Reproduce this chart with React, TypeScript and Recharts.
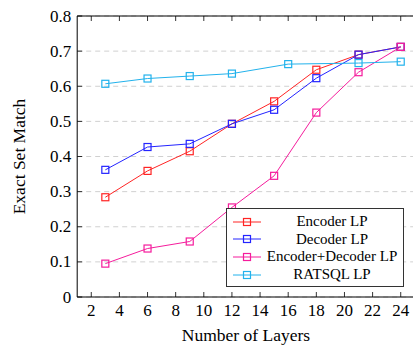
import React from 'react';
import { LineChart, Line, XAxis, YAxis, CartesianGrid, Legend } from 'recharts';

const layers = [3, 6, 9, 12, 15, 16, 18, 21, 24];
const encoderLP = [0.284, 0.359, 0.415, 0.493, 0.557, null, 0.647, 0.69, 0.712];
const decoderLP = [0.362, 0.427, 0.436, 0.493, 0.533, null, 0.623, 0.69, 0.712];
const encDecLP = [0.095, 0.138, 0.158, 0.255, 0.345, null, 0.525, 0.64, 0.712];
const ratsqlLP = [0.607, 0.622, 0.629, 0.636, null, 0.663, null, 0.666, 0.67];
const xTicks = [2, 4, 6, 8, 10, 12, 14, 16, 18, 20, 22, 24];
const yTicks = [0, 0.1, 0.2, 0.3, 0.4, 0.5, 0.6, 0.7, 0.8];

const series = [
  { key: 'enc', name: 'Encoder LP', color: '#ff2424', values: encoderLP },
  { key: 'dec', name: 'Decoder LP', color: '#2424ff', values: decoderLP },
  { key: 'encdec', name: 'Encoder+Decoder LP', color: '#f51c9c', values: encDecLP },
  { key: 'rat', name: 'RATSQL LP', color: '#22b2ec', values: ratsqlLP },
];

const data = layers.map((l, i) => {
  const row: any = { layer: l };
  series.forEach((s) => {
    row[s.key] = s.values[i];
  });
  return row;
});

const FONT = '"Liberation Serif", "Times New Roman", serif';

const Square = (color: string) => (props: any) => {
  const { cx, cy, value } = props;
  if (value === null || value === undefined || cx == null || cy == null) return <g key={props.key} />;
  return (
    <rect key={props.key} x={cx - 3.5} y={cy - 3.5} width={7} height={7} fill="none" stroke={color} strokeWidth={1.2} />
  );
};

const BottomTick = (props: any) => {
  const { x, y, payload } = props;
  return (
    <g>
      <line x1={x} y1={y} x2={x} y2={y - 5} stroke="#000" strokeWidth={0.8} />
      <text x={x} y={y + 18.5} textAnchor="middle" fontFamily={FONT} fontSize={17} fill="#000">
        {payload.value}
      </text>
    </g>
  );
};

const TopTick = (props: any) => {
  const { x, y } = props;
  return <line x1={x} y1={y} x2={x} y2={y + 5} stroke="#000" strokeWidth={0.8} />;
};

const LeftTick = (props: any) => {
  const { x, y, payload } = props;
  const v = payload.value;
  const label = v === 0 ? '0' : Number(v).toFixed(1);
  return (
    <g>
      <line x1={x} y1={y} x2={x + 5} y2={y} stroke="#000" strokeWidth={0.8} />
      <text x={x - 6} y={y + 5.5} textAnchor="end" fontFamily={FONT} fontSize={17} fill="#000">
        {label}
      </text>
    </g>
  );
};

const RightTick = (props: any) => {
  const { x, y } = props;
  return <line x1={x} y1={y} x2={x - 5} y2={y} stroke="#000" strokeWidth={0.8} />;
};

const LegendBox = () => (
  <div
    style={{
      width: 178,
      height: 79,
      boxSizing: 'border-box',
      border: '1px solid #333',
      background: '#fff',
      paddingTop: 4,
      fontFamily: FONT,
      fontSize: 15,
      color: '#000',
    }}
  >
    {series.map((s) => (
      <div key={s.key} style={{ display: 'flex', alignItems: 'center', height: 17.6 }}>
        <svg width={36} height={12} style={{ flex: 'none' }}>
          <line x1={6} y1={6} x2={34} y2={6} stroke={s.color} strokeWidth={1} />
          <rect x={16.5} y={2.5} width={7} height={7} fill="none" stroke={s.color} strokeWidth={1.2} />
        </svg>
        <div style={{ flex: 1, textAlign: 'center', whiteSpace: 'nowrap', lineHeight: '17px', paddingRight: 2 }}>{s.name}</div>
      </div>
    ))}
  </div>
);

export default function App() {
  return (
    <div style={{ position: 'absolute', left: 0, top: 0, width: 413, height: 345, overflow: 'hidden', background: '#fff' }}>
      <LineChart width={420} height={345} data={data} margin={{ top: 15, right: 4.2, left: 0, bottom: 0 }}>
        <CartesianGrid
          xAxisId="bottom"
          yAxisId="left"
          vertical={false}
          horizontal={true}
          stroke="#c4c4c4"
          strokeDasharray="5 4"
          strokeWidth={0.8}
          horizontalPoints={undefined}
        />
        <XAxis
          xAxisId="bottom"
          dataKey="layer"
          type="number"
          domain={[1, 25]}
          ticks={xTicks}
          interval={0}
          orientation="bottom"
          height={48}
          tickSize={0}
          tickMargin={0}
          tickLine={false}
          axisLine={{ stroke: '#000', strokeWidth: 1 }}
          tick={<BottomTick />}
          label={{
            content: (p: any) => {
              const vb = p.viewBox;
              return (
                <text x={vb.x + vb.width / 2} y={341} textAnchor="middle" fontFamily={FONT} fontSize={17.5} fill="#000">
                  Number of Layers
                </text>
              );
            },
          }}
        />
        <XAxis
          xAxisId="top"
          dataKey="layer"
          type="number"
          domain={[1, 25]}
          ticks={xTicks}
          interval={0}
          orientation="top"
          height={1}
          tickSize={0}
          tickMargin={0}
          tickLine={false}
          axisLine={{ stroke: '#000', strokeWidth: 1 }}
          tick={<TopTick />}
        />
        <YAxis
          yAxisId="left"
          type="number"
          domain={[0, 0.8]}
          ticks={yTicks}
          interval={0}
          orientation="left"
          width={77.2}
          tickSize={0}
          tickMargin={0}
          tickLine={false}
          axisLine={{ stroke: '#000', strokeWidth: 1 }}
          tick={<LeftTick />}
          label={{
            content: () => (
              <text
                x={24.5}
                y={156.5}
                transform="rotate(-90 24.5 156.5)"
                textAnchor="middle"
                fontFamily={FONT}
                fontSize={17.5}
                fill="#000"
              >
                Exact Set Match
              </text>
            ),
          }}
        />
        <YAxis
          yAxisId="right"
          type="number"
          domain={[0, 0.8]}
          ticks={yTicks}
          interval={0}
          orientation="right"
          width={1}
          tickSize={0}
          tickMargin={0}
          tickLine={false}
          axisLine={{ stroke: '#000', strokeWidth: 1 }}
          tick={<RightTick />}
        />
        {series.map((s) => (
          <Line
            key={s.key}
            xAxisId="bottom"
            yAxisId="left"
            type="linear"
            dataKey={s.key}
            name={s.name}
            stroke={s.color}
            strokeWidth={1}
            connectNulls
            dot={Square(s.color)}
            activeDot={false}
            isAnimationActive={false}
          />
        ))}
        <Legend
          layout="vertical"
          align="center"
          verticalAlign="middle"
          content={<LegendBox />}
          wrapperStyle={{ position: 'absolute', left: 226, top: 208, width: 178, height: 79 }}
        />
      </LineChart>
    </div>
  );
}
